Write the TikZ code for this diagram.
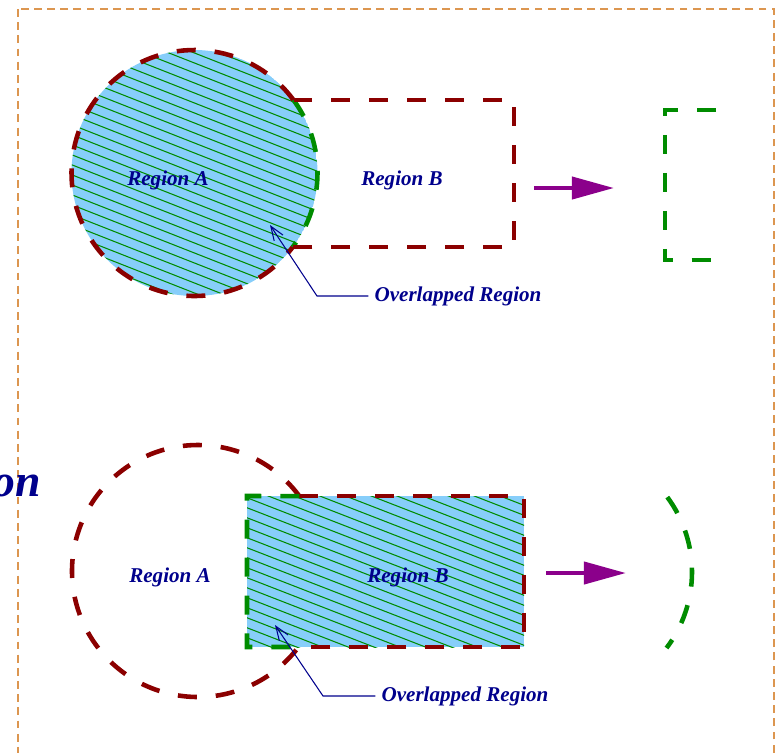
\documentclass[tikz,border=0pt]{standalone}
\usepackage{fontspec}
\setmainfont{Liberation Serif}
\usetikzlibrary{arrows.meta,calc}

\definecolor{regred}{RGB}{139,0,0}
\definecolor{reggreen}{RGB}{0,140,0}
\definecolor{reghatch}{RGB}{0,140,0}
\definecolor{regblue}{RGB}{135,206,250}
\definecolor{regnavy}{RGB}{0,0,140}
\definecolor{regpurple}{RGB}{139,0,139}
\definecolor{framecol}{RGB}{220,150,80}

\tikzset{
  redline/.style={draw=regred,line width=2.6pt,dash pattern=on 10.8pt off 10.8pt},
  greenline/.style={draw=reggreen,line width=2.6pt,dash pattern=on 10.8pt off 10.8pt},
  hatch/.style={draw=reghatch,line width=0.6pt},
  regtext/.style={text=regnavy,font=\fontsize{12}{14}\selectfont\bfseries\itshape},
  leader/.style={draw=regnavy,line width=0.6pt,-{Straight Barb[length=8pt,width=6pt]}},
  result/.style={draw=regpurple,line width=2.5pt,-{Triangle[length=24pt,width=12.5pt]}}
}

\begin{document}
\begin{tikzpicture}[x=0.02cm,y=0.02cm]
\useasboundingbox (0,0) rectangle (783,-752);
\clip (0,0) rectangle (783,-752);
\draw[framecol,line width=0.9pt,dash pattern=on 4.5pt off 3pt] (18,-9) rectangle (774,-800);
\node[anchor=base east,text=regnavy,font=\fontsize{26}{30}\selectfont\bfseries\itshape,inner sep=0pt] (word) at (41,-496) {on};

% A minus B: circle filled, rectangle only outlined
\coordinate (O1) at (194.5,-173);
\coordinate (Btl) at (514,-100);
\coordinate (Bbr) at (514,-247);
\coordinate (xa) at ($(O1)+(36.4:123)$);
\coordinate (xb) at ($(O1)+(-37:123)$);
\begin{scope}
\clip (O1) circle (123);
\fill[regblue] (O1) circle (123);
\foreach \k in {-26,...,26}
  \draw[hatch] (O1) ++(-140,{55-10*\k}) -- ++(280,-110);
\end{scope}
\draw[redline] (xa) arc[start angle=36.4,end angle=323,radius=123];
\draw[greenline] (xa) arc[start angle=36.4,end angle=-37,radius=123];
\draw[redline] (xa) -- (xa -| Btl) -- (Bbr) -- (xb -| Bbr) -- (xb);
\node[regtext] (regA1) at (168,-180) {Region A};
\node[regtext] (regB1) at (402,-180) {Region B};
\node[regtext] (ovl1) at (458,-296) {Overlapped Region};
\coordinate (knee1) at (317,-296);
\coordinate (tip1) at (270,-225);
\draw[leader] (ovl1.west) -- (knee1) -- (tip1);
\coordinate (res1s) at (534,-188);
\coordinate (res1e) at (614,-188);
\draw[result] (res1s) -- (res1e);
\draw[greenline] (716,-110) -- (665,-110) -- (665,-260) -- (716,-260);

% B minus A: rectangle filled, circle only outlined
\coordinate (O2) at (198,-571);
\coordinate (Ctl) at (247,-496);
\coordinate (Cbr) at (524,-647);
\coordinate (ya) at ($(O2)+(36.5:126)$);
\coordinate (yb) at ($(O2)+(-37.1:126)$);
\begin{scope}
\clip (Ctl) rectangle (Cbr);
\fill[regblue] (Ctl) rectangle (Cbr);
\foreach \k in {-17,...,17}
  \draw[hatch] (385.5,-571.5) ++(-170,{66-10*\k}) -- ++(340,-132);
\end{scope}
\draw[redline] (ya) arc[start angle=36.5,end angle=322.9,radius=126];
\draw[redline] (ya) -- (ya -| Cbr) -- (Cbr) -- (yb |- Cbr);
\draw[greenline] (ya) -- (Ctl) -- (Ctl |- Cbr) -- (yb |- Cbr);
\node[regtext] (regA2) at (170,-577) {Region A};
\node[regtext] (regB2) at (408,-577) {Region B};
\node[regtext] (ovl2) at (465,-696) {Overlapped Region};
\coordinate (knee2) at (323,-696);
\coordinate (tip2) at (275,-625);
\draw[leader] (ovl2.west) -- (knee2) -- (tip2);
\coordinate (res2s) at (546,-573);
\coordinate (res2e) at (626,-573);
\draw[result] (res2s) -- (res2e);
\coordinate (O3) at (566,-572);
\draw[greenline] ($(O3)+(36.5:126)$) arc[start angle=36.5,end angle=-37.1,radius=126];
\end{tikzpicture}
\end{document}
